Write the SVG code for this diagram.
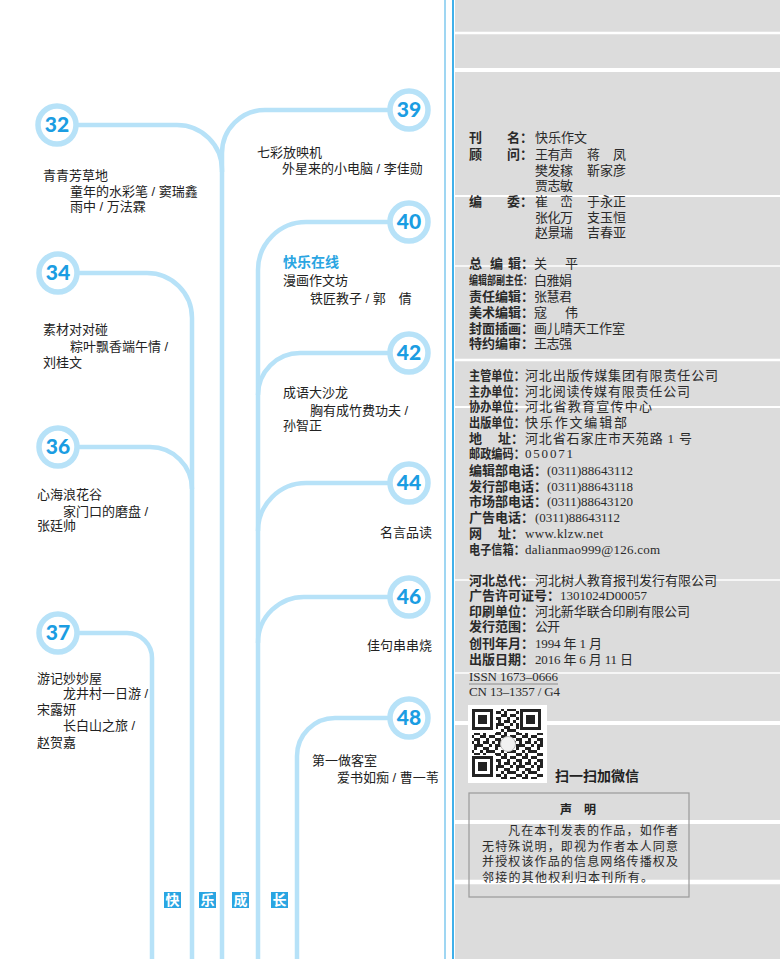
<svg xmlns="http://www.w3.org/2000/svg" width="780" height="959" viewBox="0 0 780 959">
<defs>
<style>
.ln{fill:none;stroke:#b7e2f8;stroke-width:4.5}
.ring{fill:#fff;stroke:#b7e2f8;stroke-width:5.5}
.num{font-family:Lato,"DejaVu Sans",sans-serif;font-weight:900;font-size:21px;fill:#1b9de2;text-anchor:middle}
.t{font-family:"Liberation Sans","Noto Sans CJK SC",sans-serif;font-size:13px;fill:#222}
.blue{font-family:"Liberation Sans","Noto Sans CJK SC",sans-serif;font-size:14px;font-weight:bold;fill:#2aa5e2}
.lab{font-family:"Liberation Sans","Noto Sans CJK SC",sans-serif;font-size:13px;font-weight:bold;fill:#2a2a2a}
.lab2{font-size:11.2px}
.val{font-family:"Liberation Serif","Noto Sans CJK SC",serif;font-size:13px;fill:#2a2a2a}
.wl{stroke:#fff;fill:none}
.tag{fill:#2aa5e2}
.tagt{font-family:"Noto Sans CJK SC",sans-serif;font-size:14px;font-weight:bold;fill:#fff;text-anchor:middle}
.st{font-family:"Liberation Sans","Noto Sans CJK SC",sans-serif;font-size:12px;fill:#2a2a2a}
</style>
<pattern id="qrp" width="21" height="21" patternUnits="userSpaceOnUse">
<path fill="#222" d="M0 0h3v3H0zM6 0h6v3H6zM18 0h3v3h-3zM3 3h3v3H3zM12 3h6v3h-6zM0 6h6v3H0zM9 6h3v3H9zM15 6h3v3h-3zM6 9h3v3H6zM12 9h9v3h-9zM0 12h6v3H0zM12 12h3v3h-3zM3 15h9v3H3zM18 15h3v3h-3zM0 18h3v3H0zM12 18h6v3h-6z"/>
</pattern>
</defs>
<rect x="0" y="0" width="780" height="959" fill="#fff"/>

<g id="panel">
<rect x="455" y="0" width="325" height="959" fill="#dcdcdc"/>
<g class="wl">
<line x1="455" y1="33" x2="780" y2="33" stroke-width="2.5"/>
<line x1="455" y1="70" x2="780" y2="70" stroke-width="4"/>
<line x1="455" y1="196" x2="780" y2="196" stroke-width="2"/>
<line x1="455" y1="266" x2="780" y2="266" stroke-width="1.5"/>
<line x1="455" y1="360" x2="780" y2="360" stroke-width="2.5"/>
<line x1="455" y1="407" x2="780" y2="407" stroke-width="2"/>
<line x1="455" y1="580" x2="780" y2="580" stroke-width="1.5"/>
<line x1="455" y1="673" x2="780" y2="673" stroke-width="1.5"/>
<line x1="455" y1="723" x2="780" y2="723" stroke-width="4"/>
<line x1="455" y1="822" x2="780" y2="822" stroke-width="4"/>
<line x1="455" y1="882" x2="780" y2="882" stroke-width="4.5"/>
</g>
<line x1="445" y1="0" x2="445" y2="959" stroke="#9fd6f2" stroke-width="2"/>
<line x1="453" y1="0" x2="453" y2="959" stroke="#3fb0ea" stroke-width="2"/>
</g>

<g id="connectors">
<path class="ln" d="M77 125H177A45 45 0 0 1 222 170V959"/>
<path class="ln" d="M389 110H265A43 43 0 0 0 222 153V172"/>
<path class="ln" d="M78 273H147A45 45 0 0 1 192 318V959"/>
<path class="ln" d="M78 447H150A42 42 0 0 1 192 489"/>
<path class="ln" d="M78 633H127A25 25 0 0 1 152 658V959"/>
<path class="ln" d="M389 222H306A48 48 0 0 0 258 270V959"/>
<path class="ln" d="M389 353H300A42 42 0 0 0 258 395"/>
<path class="ln" d="M389 483H306A48 48 0 0 0 258 531"/>
<path class="ln" d="M389 597H306A46 46 0 0 0 258 643"/>
<path class="ln" d="M389 718H335A38 38 0 0 0 297 756V959"/>
</g>

<g id="n32">
<circle class="ring" cx="57" cy="125" r="19"/>
<text class="num" x="57" y="132">32</text>
<text class="t" x="43" y="179.5">青青芳草地</text>
<text class="t" x="70" y="195.5">童年的水彩笔 / 窦瑞鑫</text>
<text class="t" x="70" y="210.5">雨中 / 万法霖</text>
</g>
<g id="n34">
<circle class="ring" cx="58" cy="273" r="19"/>
<text class="num" x="58" y="280">34</text>
<text class="t" x="43" y="333.5">素材对对碰</text>
<text class="t" x="70" y="350.5">粽叶飘香端午情 /</text>
<text class="t" x="43" y="366.5">刘桂文</text>
</g>
<g id="n36">
<circle class="ring" cx="58" cy="447" r="19"/>
<text class="num" x="58" y="454">36</text>
<text class="t" x="37" y="498.5">心海浪花谷</text>
<text class="t" x="63" y="515.5">家门口的磨盘 /</text>
<text class="t" x="37" y="529.5">张廷帅</text>
</g>
<g id="n37">
<circle class="ring" cx="58" cy="633" r="19"/>
<text class="num" x="58" y="640">37</text>
<text class="t" x="37" y="682.5">游记妙妙屋</text>
<text class="t" x="63" y="697.5">龙井村一日游 /</text>
<text class="t" x="37" y="713.5">宋露妍</text>
<text class="t" x="63" y="729.5">长白山之旅 /</text>
<text class="t" x="37" y="746.5">赵贺嘉</text>
</g>
<g id="n39">
<circle class="ring" cx="409" cy="110" r="19"/>
<text class="num" x="409" y="117">39</text>
<text class="t" x="257" y="156.5">七彩放映机</text>
<text class="t" x="282" y="172.5">外星来的小电脑 / 李佳勋</text>
</g>
<g id="n40">
<circle class="ring" cx="409" cy="222" r="19"/>
<text class="num" x="409" y="229">40</text>
<text class="blue" x="283" y="267">快乐在线</text>
<text class="t" x="283" y="284.5">漫画作文坊</text>
<text class="t" x="310" y="302.5">铁匠教子 / 郭　倩</text>
</g>
<g id="n42">
<circle class="ring" cx="409" cy="353" r="19"/>
<text class="num" x="409" y="360">42</text>
<text class="t" x="283" y="396.5">成语大沙龙</text>
<text class="t" x="310" y="414.5">胸有成竹费功夫 /</text>
<text class="t" x="283" y="429.5">孙智正</text>
</g>
<g id="n44">
<circle class="ring" cx="409" cy="483" r="19"/>
<text class="num" x="409" y="490">44</text>
<text class="t" x="432" y="536.5" text-anchor="end">名言品读</text>
</g>
<g id="n46">
<circle class="ring" cx="409" cy="597" r="19"/>
<text class="num" x="409" y="604">46</text>
<text class="t" x="432" y="649.5" text-anchor="end">佳句串串烧</text>
</g>
<g id="n48">
<circle class="ring" cx="409" cy="718" r="19"/>
<text class="num" x="409" y="725">48</text>
<text class="t" x="312" y="764.5">第一做客室</text>
<text class="t" x="337" y="781.5">爱书如痴 / 曹一苇</text>
</g>

<g id="tags">
<rect class="tag" x="164" y="892" width="17" height="16"/>
<text class="tagt" x="172.5" y="905">快</text>
<rect class="tag" x="199" y="892" width="17" height="16"/>
<text class="tagt" x="207.5" y="905">乐</text>
<rect class="tag" x="232" y="892" width="17" height="16"/>
<text class="tagt" x="240.5" y="905">成</text>
<rect class="tag" x="271" y="892" width="17" height="16"/>
<text class="tagt" x="279.5" y="905">长</text>
</g>

<g id="masthead">
<text class="lab" x="469" y="141.5">刊</text><text class="lab" x="507" y="141.5">名：</text>
<text class="val" x="535" y="141.5" textLength="52">快乐作文</text>
<text class="lab" x="469" y="158.5">顾</text><text class="lab" x="507" y="158.5">问：</text>
<text class="val" x="535" y="158.5" textLength="38">王有声</text><text class="val" x="587" y="158.5" textLength="39">蒋　凤</text>
<text class="val" x="535" y="174.5" textLength="38">樊发稼</text><text class="val" x="587" y="174.5" textLength="39">靳家彦</text>
<text class="val" x="535" y="189.5" textLength="38">贾志敏</text>
<text class="lab" x="469" y="205.5">编</text><text class="lab" x="507" y="205.5">委：</text>
<text class="val" x="535" y="205.5" textLength="38">崔　峦</text><text class="val" x="587" y="205.5" textLength="39">于永正</text>
<text class="val" x="535" y="221.5" textLength="38">张化万</text><text class="val" x="587" y="221.5" textLength="39">支玉恒</text>
<text class="val" x="535" y="236.5" textLength="38">赵景瑞</text><text class="val" x="587" y="236.5" textLength="39">吉春亚</text>

<text class="lab" x="469" y="267.5">总</text><text class="lab" x="490" y="267.5">编</text><text class="lab" x="508" y="267.5">辑：</text>
<text class="val" x="534" y="267.5">关</text><text class="val" x="565" y="267.5">平</text>
<text class="lab" style="font-size:9px" transform="translate(469 284.5) scale(1 1.35)">编辑部副主任：</text>
<text class="val" x="534" y="284.5" textLength="38">白雅娟</text>
<text class="lab" x="469" y="301">责任编辑：</text><text class="val" x="534" y="301" textLength="38">张慧君</text>
<text class="lab" x="469" y="317">美术编辑：</text><text class="val" x="534" y="317">寇</text><text class="val" x="565" y="317">伟</text>
<text class="lab" x="469" y="332.5">封面插画：</text><text class="val" x="534" y="332.5" textLength="91">画儿晴天工作室</text>
<text class="lab" x="469" y="347.5">特约编审：</text><text class="val" x="534" y="347.5" textLength="38">王志强</text>

<text class="lab lab2" transform="translate(469 379.5) scale(1 1.15)">主管单位：</text>
<text class="val" x="525" y="379.5" textLength="193">河北出版传媒集团有限责任公司</text>
<text class="lab lab2" transform="translate(469 396) scale(1 1.15)">主办单位：</text>
<text class="val" x="525" y="396" textLength="165">河北阅读传媒有限责任公司</text>
<text class="lab lab2" transform="translate(469 411) scale(1 1.15)">协办单位：</text>
<text class="val" x="525" y="411" textLength="127">河北省教育宣传中心</text>
<text class="lab lab2" transform="translate(469 427) scale(1 1.15)">出版单位：</text>
<text class="val" x="525" y="427" textLength="102">快乐作文编辑部</text>
<text class="lab" x="469" y="442.5">地</text><text class="lab" x="498" y="442.5">址：</text>
<text class="val" x="525" y="442.5" textLength="167">河北省石家庄市天苑路 1 号</text>
<text class="lab lab2" transform="translate(469 457.5) scale(1 1.15)">邮政编码：</text>
<text class="val" x="525" y="457.5" textLength="48">050071</text>
<text class="lab" x="469" y="474.5">编辑部电话：</text><text class="val" x="547" y="474.5" textLength="86">(0311)88643112</text>
<text class="lab" x="469" y="490.5">发行部电话：</text><text class="val" x="547" y="490.5" textLength="86">(0311)88643118</text>
<text class="lab" x="469" y="506">市场部电话：</text><text class="val" x="547" y="506" textLength="86">(0311)88643120</text>
<text class="lab" x="469" y="521.5">广告电话：</text><text class="val" x="535" y="521.5" textLength="85">(0311)88643112</text>
<text class="lab" x="469" y="537.5">网</text><text class="lab" x="498" y="537.5">址：</text>
<text class="val" x="525" y="537.5" textLength="78">www.klzw.net</text>
<text class="lab lab2" transform="translate(469 553.5) scale(1 1.15)">电子信箱：</text>
<text class="val" x="525" y="553.5" textLength="135">dalianmao999@126.com</text>

<text class="lab" x="469" y="584.5">河北总代：</text><text class="val" x="535" y="584.5" textLength="182">河北树人教育报刊发行有限公司</text>
<text class="lab" x="469" y="599.5">广告许可证号：</text><text class="val" x="560" y="599.5" textLength="87">1301024D00057</text>
<text class="lab" x="469" y="616">印刷单位：</text><text class="val" x="535" y="616" textLength="155">河北新华联合印刷有限公司</text>
<text class="lab" x="469" y="631">发行范围：</text><text class="val" x="535" y="631" textLength="25">公开</text>
<text class="lab" x="469" y="647.5">创刊年月：</text><text class="val" x="535" y="647.5" textLength="67">1994 年 1 月</text>
<text class="lab" x="469" y="663.5">出版日期：</text><text class="val" x="535" y="663.5" textLength="98">2016 年 6 月 11 日</text>
<text class="val" x="469" y="680.5" textLength="89">ISSN 1673–0666</text>
<line x1="469" y1="684" x2="558" y2="684" stroke="#777" stroke-width="0.8"/>
<text class="val" x="469" y="696" textLength="91">CN 13–1357 / G4</text>
</g>

<g id="qrcode">
<rect x="468" y="705" width="79" height="78" fill="#fff"/>
<rect x="472" y="709" width="71" height="70" fill="url(#qrp)"/>
<rect x="471" y="708" width="25" height="25" fill="#fff"/>
<rect x="519" y="708" width="25" height="25" fill="#fff"/>
<rect x="471" y="755" width="25" height="25" fill="#fff"/>
<g fill="none" stroke="#222" stroke-width="3">
<rect x="473.5" y="710.5" width="18" height="18"/>
<rect x="521.5" y="710.5" width="18" height="18"/>
<rect x="473.5" y="757.5" width="18" height="18"/>
</g>
<g fill="#222">
<rect x="478" y="715" width="9" height="9"/>
<rect x="526" y="715" width="9" height="9"/>
<rect x="478" y="762" width="9" height="9"/>
</g>
<circle cx="508" cy="744" r="7.5" fill="#f2f2f2" stroke="#bbb" stroke-width="1"/>
<text x="555" y="781" font-family="'Liberation Sans','Noto Sans CJK SC',sans-serif" font-size="14" font-weight="bold" fill="#222">扫一扫加微信</text>
</g>

<g id="statement">
<rect x="469" y="793" width="220" height="104" fill="none" stroke="#9a9a9a" stroke-width="1.2"/>
<text x="578" y="814" text-anchor="middle" font-family="'Liberation Sans','Noto Sans CJK SC',sans-serif" font-size="12" font-weight="bold" fill="#222">声　明</text>
<text class="st" x="508" y="835" textLength="170">凡在本刊发表的作品，如作者</text>
<text class="st" x="482" y="850.5" textLength="196">无特殊说明，即视为作者本人同意</text>
<text class="st" x="482" y="866" textLength="196">并授权该作品的信息网络传播权及</text>
<text class="st" x="482" y="881.5" textLength="171">邻接的其他权利归本刊所有。</text>
</g>
</svg>
